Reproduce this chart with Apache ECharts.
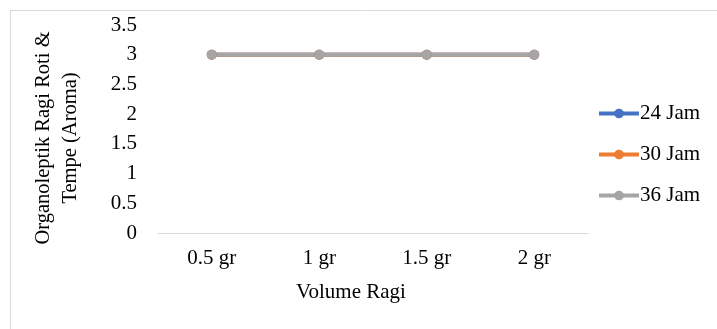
<!DOCTYPE html>
<html>
<head>
<meta charset="utf-8">
<script src="https://cdn.jsdelivr.net/npm/echarts@6/dist/echarts.min.js"></script>
<style>
html,body{margin:0;padding:0;background:#fff;}
#c{width:717px;height:329px;}
</style>
</head>
<body>
<div id="c"></div>
<script>
var categories = ['0.5 gr', '1 gr', '1.5 gr', '2 gr'];
var seriesNames = ['24 Jam', '30 Jam', '36 Jam'];
var jam24 = [3, 3, 3, 3];
var jam30 = [3, 3, 3, 3];
var jam36 = [3, 3, 3, 3];
var colors = ['#4472C4', '#ED7D31', '#A5A5A5'];
var yTitle = 'Organoleptik Ragi Roti &\nTempe (Aroma)';
var xTitle = 'Volume Ragi';

var font = '"Liberation Serif", "Times New Roman", serif';
var fs = 21;
var chart = echarts.init(document.getElementById('c'), null, {renderer: 'canvas'});
var data = [jam24, jam30, jam36];
chart.setOption({
  animation: false,
  color: colors,
  grid: {left: 158, right: 129, top: 25, bottom: 96, containLabel: false},
  xAxis: {
    type: 'category',
    data: categories,
    boundaryGap: true,
    axisLine: {lineStyle: {color: '#D9D9D9', width: 1}},
    axisTick: {show: false},
    axisLabel: {color: '#000', fontFamily: font, fontSize: fs, margin: 15}
  },
  yAxis: {
    type: 'value',
    min: 0, max: 3.5, interval: 0.5,
    axisLine: {show: false},
    axisTick: {show: false},
    splitLine: {show: false},
    axisLabel: {color: '#000', fontFamily: font, fontSize: fs, margin: 21}
  },
  legend: {
    orient: 'vertical',
    left: 592, top: 98,
    itemWidth: 40, itemHeight: 12, itemGap: 20,
    lineStyle: {width: 4},
    textStyle: {color: '#000', fontFamily: font, fontSize: fs, padding: [0,0,0,-4]},
    data: seriesNames
  },
  graphic: [
    {type: 'rect', left: 8, top: 8, shape: {width: 740, height: 360}, style: {fill: 'none', stroke: '#D9D9D9', lineWidth: 1}, silent: true},
    {type: 'text', x: 57, y: 138, rotation: Math.PI/2, style: {text: yTitle, fontFamily: font, fontSize: 20.5, fill: '#000', align: 'center', verticalAlign: 'middle', lineHeight: 27}},
    {type: 'text', x: 351, y: 292, style: {text: xTitle, fontFamily: font, fontSize: fs, fill: '#000', align: 'center', verticalAlign: 'middle'}}
  ],
  series: seriesNames.map(function(n, i){
    return {
      name: n, type: 'line', data: data[i],
      symbol: 'circle', symbolSize: 10,
      lineStyle: {width: 4, color: colors[i]},
      itemStyle: {color: colors[i]}
    };
  })
});
</script>
</body>
</html>
